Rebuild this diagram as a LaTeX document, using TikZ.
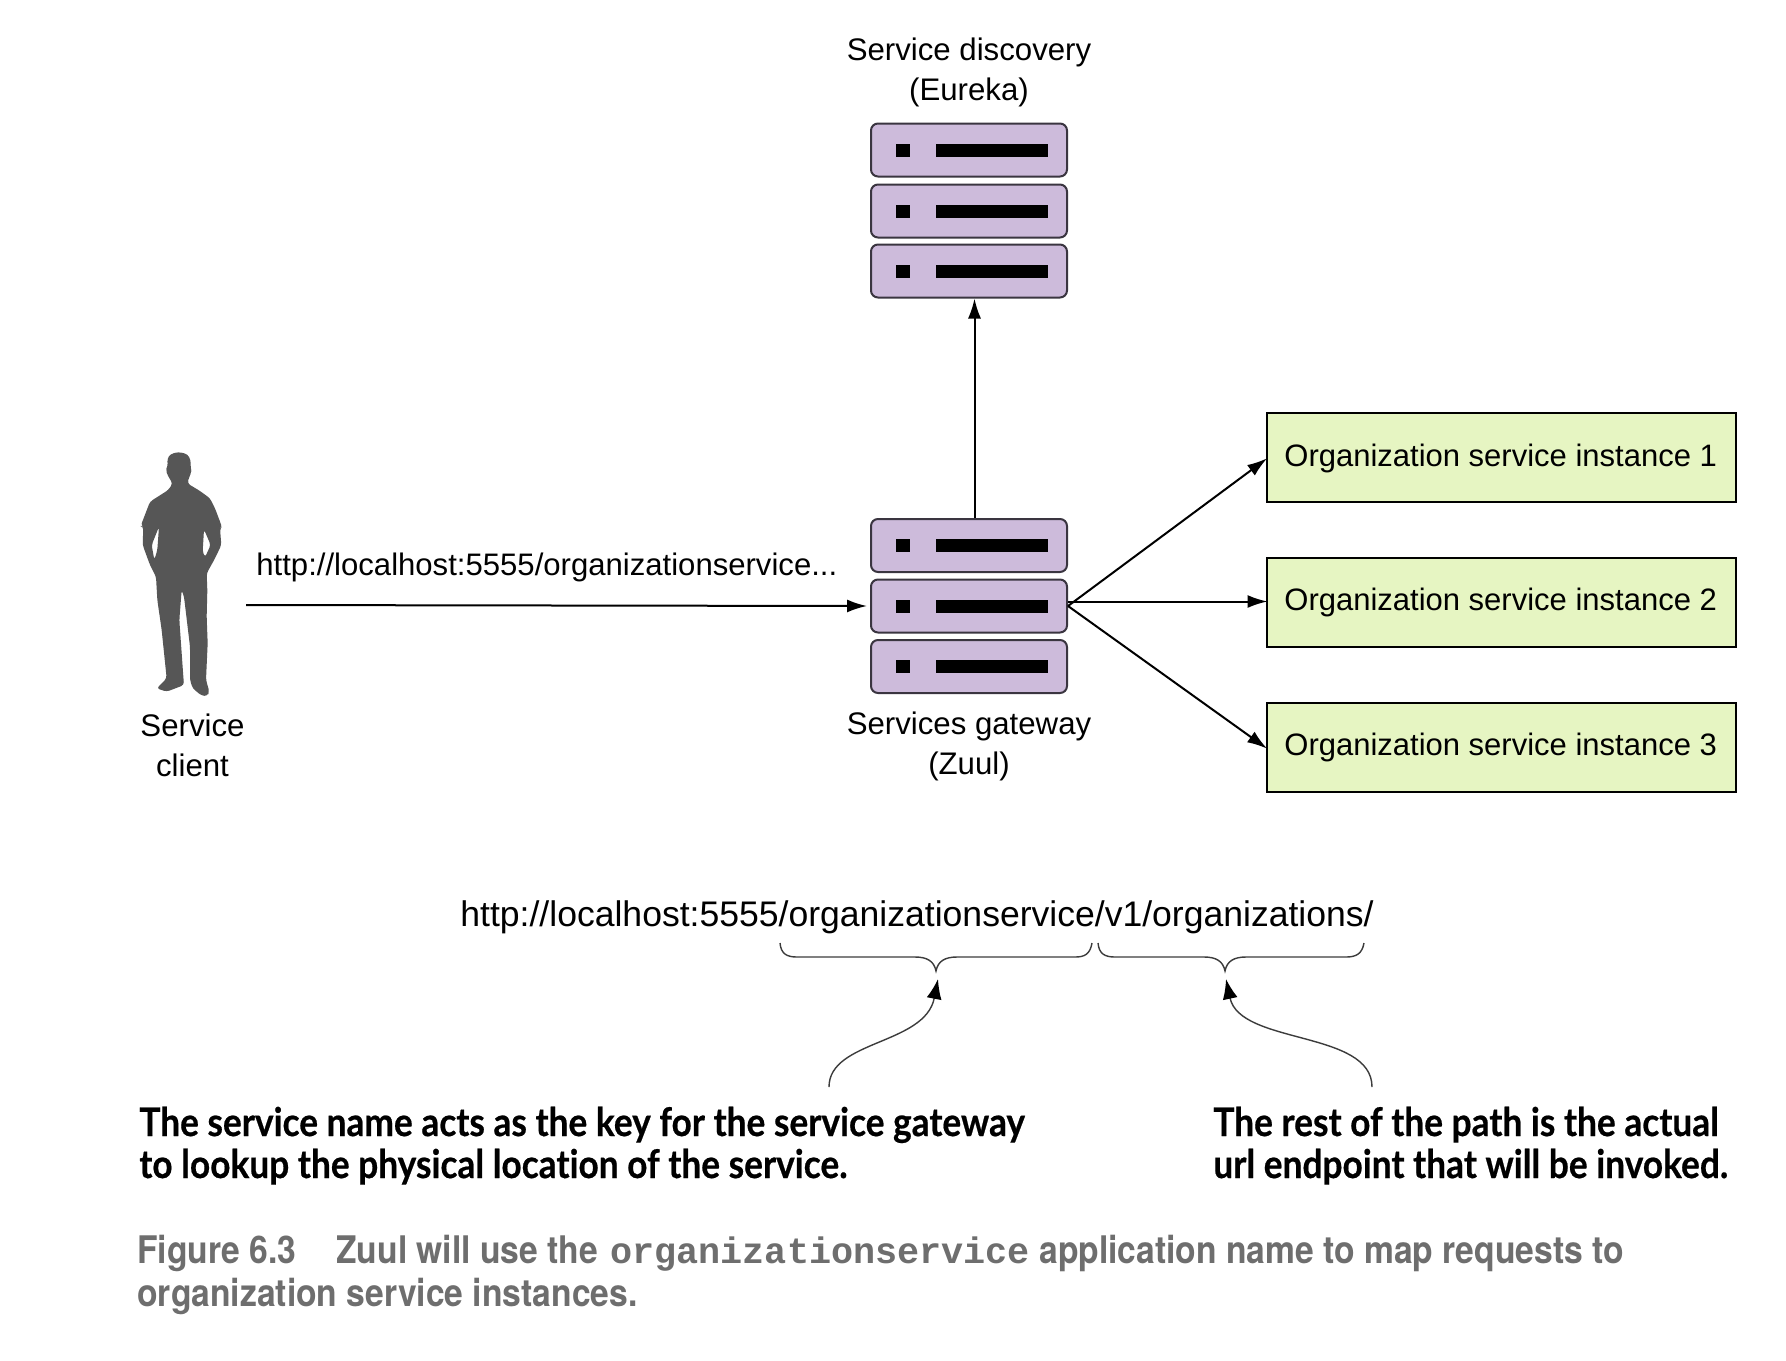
\documentclass[tikz,border=0pt]{standalone}
\usepackage{fontspec}
\setmainfont{Liberation Sans}
\newfontfamily\notefont[FakeStretch=0.895,RawFeature=-liga,BoldFeatures={FakeBold=0.5}]{Lato}
\newfontfamily\capfont[FakeStretch=0.885]{TeX Gyre Heros}
\newfontfamily\capmono{Liberation Mono}
\usetikzlibrary{arrows.meta}
\definecolor{srvfill}{HTML}{CDBBDB}
\definecolor{srvline}{HTML}{3A3540}
\definecolor{instfill}{HTML}{E6F5C2}
\definecolor{capgray}{HTML}{6E6E6E}
\definecolor{persongray}{HTML}{565656}
\definecolor{bracegray}{HTML}{3C3C3C}
\tikzset{
  srv/.style={draw=srvline,fill=srvfill,line width=1pt,rounded corners=3.5pt,minimum width=98pt,minimum height=26.5pt,inner sep=0pt},
  led/.style={fill=black,inner sep=0pt,minimum width=7pt,minimum height=6.5pt},
  slot/.style={fill=black,inner sep=0pt,minimum width=56pt,minimum height=6.5pt},
  inst/.style={draw=black,fill=instfill,line width=1pt,minimum width=234.5pt,minimum height=44.5pt,inner sep=0pt},
  lab/.style={font=\fontsize{15.6}{20}\selectfont,inner sep=0pt,align=center,anchor=base},
  lin/.style={font=\fontsize{15.5}{20}\selectfont,inner sep=0pt,anchor=base west},
  conn/.style={line width=1pt,-{Latex[length=10pt,width=6.5pt]}},
  curv/.style={bracegray,line width=.7pt,-{Latex[length=10pt,width=7.5pt,color=black]}},
  brc/.style={bracegray,line width=.7pt},
  note/.style={font=\fontsize{19.7}{21}\selectfont\notefont\bfseries,inner sep=0pt,anchor=base west,align=left},
  capt/.style={font=\fontsize{19}{21.5}\selectfont\capfont\bfseries,text=capgray,inner sep=0pt,anchor=base west,align=left},
}
\newcommand{\srvunit}[3]{%
  \node[srv] (#1) at (#2,#3) {};
  \node[led] at (903,#3) {};
  \node[slot] at (992,#3) {};
}
\begin{document}
\begin{tikzpicture}[x=0.5pt,y=-0.5pt]
\useasboundingbox[fill=white] (0,0) rectangle (1786,1360);

% person
\begin{scope}[shift={(100,430)},x=0.1666667pt,y=-0.1666667pt]
\fill[persongray,even odd rule,rounded corners=1.5pt]
 (235,66) -- (262,72) -- (272,90) -- (272,115) -- (275,125) -- (268,140) -- (262,160) -- (300,183) -- (330,205) -- (345,235) -- (362,280) -- (365,290) -- (360,296) -- (364,345) -- (345,385) -- (320,430) -- (322,480) -- (320,560) -- (323,640) -- (318,750) -- (328,785) -- (322,798) -- (305,797) -- (278,775) -- (270,750) -- (270,650) -- (252,500) -- (245,480) -- (238,570) -- (250,740) -- (252,765) -- (200,785) -- (170,775) -- (200,745) -- (185,600) -- (172,510) -- (168,440) -- (150,405) -- (128,345) -- (130,290) -- (122,288) -- (150,215) -- (205,180) -- (218,160) -- (205,140) -- (197,120) -- (203,110) -- (202,85) -- (212,72) -- cycle
 (177,290) -- (155,345) -- (163,390) -- (172,360) -- cycle
 (312,298) -- (332,345) -- (315,382) -- (308,365) -- cycle;
\end{scope}
\coordinate (clientout) at (246,605);

% servers
\srvunit{eua}{969}{150}
\srvunit{eub}{969}{211}
\srvunit{euc}{969}{271}
\srvunit{gwa}{969}{545.5}
\srvunit{gwb}{969}{606}
\srvunit{gwc}{969}{666.5}

% instances
\node[inst] (ia) at (1501,457.5) {};
\node[inst] (ib) at (1501,602.5) {};
\node[inst] (ic) at (1501,747.5) {};
\node[lin] (ta) at (1284,466) {Organization service instance 1};
\node[lin] (tb) at (1284,610.5) {Organization service instance 2};
\node[lin] (tc) at (1284,755.5) {Organization service instance 3};

% labels
\node[lab] (ltop) at (969,100) {Service discovery\\(Eureka)};
\node[lab] (lgw) at (969,774) {Services gateway\\(Zuul)};
\node[lab] (lcl) at (192.5,776) {Service\\client};
\node[lin,font=\fontsize{15.55}{20}\selectfont] (lurl) at (256,575) {http://localhost:5555/organizationservice...};
\node[lin,font=\fontsize{17.78}{20}\selectfont] (burl) at (460,926) {http://localhost:5555/organizationservice/v1/organizations/};

% connectors
\draw[conn,shorten >=1.5pt] (clientout) -- (gwb.west);
\draw[conn] ([xshift=2.75pt]gwa.north) -- ([xshift=2.75pt]euc.south);
\draw[conn,shorten >=-1pt] (gwb.east) -- ([yshift=-1pt]ia.west);
\draw[conn,shorten >=-1pt] ([yshift=.5pt]gwb.east |- ib.west) -- ([yshift=.5pt]ib.west);
\draw[conn,shorten >=-1pt] (gwb.east) -- (ic.west);

% braces
\draw[brc] (780,943) .. controls (781,954) and (787,957) .. (797,957) -- (915,957) .. controls (927,957) and (934,961) .. (936,971) .. controls (938,961) and (945,957) .. (957,957) -- (1075,957) .. controls (1085,957) and (1090,954) .. (1092,943);
\draw[brc] (1098,943) .. controls (1099,954) and (1105,957) .. (1115,957) -- (1204,957) .. controls (1216,957) and (1223,961) .. (1225,971) .. controls (1227,961) and (1234,957) .. (1246,957) -- (1346,957) .. controls (1356,957) and (1362,954) .. (1364,943);

% annotations
\node[note] (na) at (139,1178) {The service name acts as the key for the service gateway\\to lookup the physical location of the service.};
\node[note] (nb) at (1213,1178) {The rest of the path is the actual\\url endpoint that will be invoked.};
\coordinate (ca) at (829,1087);
\coordinate (cb) at (1372,1087);
\coordinate (ta1) at (938,979);
\coordinate (tb1) at (1226,979);
\draw[curv] (ca) .. controls (829,1040) and (925,1045) .. (ta1);
\draw[curv] (cb) .. controls (1372,1030) and (1240,1045) .. (tb1);

% caption
\node[capt] (cap) at (137,1306.5) {Figure 6.3\hspace{20pt}Zuul will use the\hspace{1.5pt} {\capmono\fontsize{18.4}{21.5}\selectfont organizationservice} application name to map requests to\\organization service instances.};
\end{tikzpicture}
\end{document}
